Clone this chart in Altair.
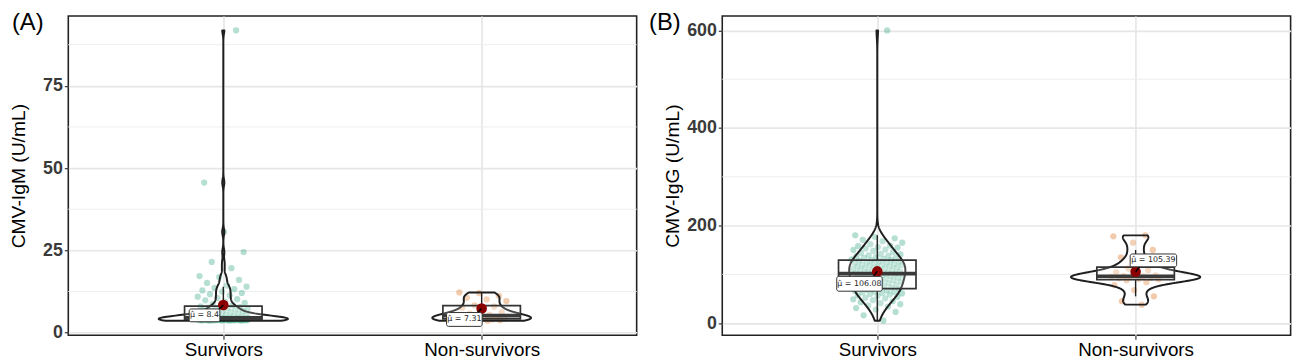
import altair as alt
import numpy as np
import pandas as pd

groups = ["Survivors", "Non-survivors"]
panel_tags = ["(A)", "(B)"]
y_titles = ["CMV-IgM (U/mL)", "CMV-IgG (U/mL)"]

igm_survivors = [
    3.62, 3.63, 3.65, 3.67, 3.68, 3.70, 3.71, 3.72, 3.74, 3.75, 3.77, 3.78, 3.79, 3.81, 3.82, 3.83,
    3.85, 3.86, 3.88, 3.89, 3.91, 3.92, 3.94, 3.95, 3.97, 3.99,
    4.01, 4.02, 4.04, 4.05, 4.07, 4.08, 4.10, 4.11, 4.13, 4.14, 4.16, 4.17, 4.19, 4.20, 4.22, 4.23,
    4.25, 4.26, 4.28, 4.30, 4.31, 4.33, 4.35, 4.36, 4.38, 4.40, 4.42, 4.44, 4.46, 4.48,
    4.58, 4.69, 4.81, 4.93, 5.06, 5.18, 5.31, 5.44,
    5.61, 5.77, 5.92, 6.05, 6.21, 6.38, 6.52, 6.67, 6.81, 6.96, 7.12, 7.27, 7.43, 7.58, 7.72, 7.86, 7.97,
    8.31, 8.68, 9.05, 9.42, 9.81, 10.17, 10.55, 10.93, 11.31, 11.69, 12.07, 12.46, 12.84, 13.22, 13.6,
    13.98, 14.3,
    15.1, 16.0, 16.9, 17.2, 19.6, 21.5, 24.5, 30.6, 45.6, 91.8,
]
igm_nonsurvivors = [
    3.62, 3.70, 3.78, 3.86, 3.95, 4.05, 4.15, 4.22, 4.35, 4.5, 4.7, 4.85, 5.0, 5.4, 5.8, 6.2,
    7.0, 7.6, 7.9, 8.3, 9.6, 10.1, 10.6, 11.2, 12.0, 12.2,
]
igg_survivors = [
    5, 16, 23, 28, 31, 34, 36, 39, 41, 43, 45, 47, 49, 51, 52, 54, 56, 57, 59,
    60, 61, 62, 63, 64, 65, 66, 67, 69, 70, 71, 72, 73, 74, 75, 77, 78, 79,
    80, 81, 82, 84, 85, 86, 87, 88, 89, 90, 91, 92, 93, 94, 95, 96, 97, 98, 99,
    100, 101, 102, 103, 104, 105, 106, 107, 108, 109, 110, 111, 112, 113, 114, 115, 116, 117,
    118, 119, 119.5, 120, 121, 122, 123, 124, 125, 126, 127, 128, 129, 130, 131, 132, 134, 135,
    136, 137, 138, 139, 141, 142, 144, 146, 148, 150, 151, 153, 155, 156, 158, 159,
    162, 165, 168, 171, 174, 177, 180, 600,
]
igg_nonsurvivors = [
    38, 45, 55, 68, 78, 84, 88, 90, 91, 92, 93, 94, 95, 96, 97, 98, 100, 104, 108,
    112, 118, 125, 135, 150, 165, 178, 180,
]

igm_mean = [8.4, 7.31]
igg_mean = [106.08, 105.39]
igm_mean_text = ["μ̂ = 8.4", "μ̂ = 7.31"]
igg_mean_text = ["μ̂ = 106.08", "μ̂ = 105.39"]

igm_ticks = [0, 25, 50, 75]
igm_minor = [12.5, 37.5, 62.5, 87.5]
igg_ticks = [0, 200, 400, 600]
igg_minor = [100, 300, 500]

GREEN = "#1B9E77"
ORANGE = "#D95F02"
FONT = "Liberation Sans"
LINE = "#1f1f1f"


def nrd0(v):
    v = np.asarray(v, float)
    sd = np.std(v, ddof=1)
    iqr = np.percentile(v, 75) - np.percentile(v, 25)
    return 0.9 * min(sd, iqr / 1.34) * len(v) ** -0.2


def kde_max(v, bw):
    v = np.asarray(v, float)
    grid = np.linspace(v.min(), v.max(), 512)
    z = (grid[:, None] - v[None, :]) / bw
    dens = np.exp(-0.5 * z ** 2).sum(axis=1) / (len(v) * bw * np.sqrt(2 * np.pi))
    return dens.max()


def panel(series, means, mean_text, ticks, minor, tag, ytitle, label_style, title_pad, tag_x):
    rows_g, rows_v = [], []
    for gi, vals in enumerate(series, start=1):
        rows_g += [gi] * len(vals)
        rows_v += list(vals)
    d = pd.DataFrame({"g": rows_g, "v": rows_v})
    lo, hi = min(rows_v), max(rows_v)
    span = hi - lo
    ysc = alt.Scale(domain=[lo - 0.05 * span, hi + 0.05 * span], nice=False, zero=False)
    xsc = alt.Scale(domain=[0.4, 2.6], nice=False, zero=False)
    xax = alt.Axis(values=[1, 2], labelExpr=f"datum.value == 1 ? '{groups[0]}' : '{groups[1]}'",
                   title=None, labelFontSize=19, labelColor="black", labelFont=FONT,
                   tickSize=4, tickColor="#333", tickWidth=1.2, labelPadding=1, domain=False,
                   grid=True, gridColor="#e6e6e6", gridWidth=1.7)
    yax = alt.Axis(values=ticks, title=ytitle, labelFontSize=18, labelFontWeight="bold",
                   labelColor="#3a3a3a", labelFont=FONT, tickSize=4, tickColor="#333",
                   tickWidth=1.2, labelPadding=2, domain=False, grid=True, gridColor="#e6e6e6",
                   gridWidth=1.7, titleFontSize=19.5, titleFontWeight="normal", titleColor="black",
                   titleFont=FONT, titlePadding=title_pad)

    def X(f):
        return alt.X(f, type="quantitative", scale=xsc, axis=xax, title=None)

    def Y(f):
        return alt.Y(f, type="quantitative", scale=ysc, axis=yax, title=ytitle)

    layers = []
    layers.append(alt.Chart(pd.DataFrame({"v": minor})).mark_rule(color="#eeeeee", strokeWidth=1)
                  .encode(y=Y("v")))

    layers.append(
        alt.Chart(d)
        .transform_window(i="row_number()", groupby=["g"])
        .transform_calculate(jx="datum.g + ((datum.i * 0.6180339887) % 1 - 0.5) * 0.2")
        .mark_circle(size=40, opacity=0.33)
        .encode(x=X("jx"), y=Y("v"),
                color=alt.Color("g:N", scale=alt.Scale(domain=[1, 2], range=[GREEN, ORANGE]), legend=None))
    )

    bws = [nrd0(v) for v in series]
    K = 0.25 / max(kde_max(v, b) for v, b in zip(series, bws))
    for gi, (vals, bw) in enumerate(zip(series, bws), start=1):
        layers.append(
            alt.Chart(d)
            .transform_filter(f"datum.g == {gi}")
            .transform_density("v", as_=["v", "dens"], bandwidth=float(bw),
                               extent=[float(min(vals)), float(max(vals))], steps=512)
            .transform_calculate(xl=f"{gi} - datum.dens * {K}", xr=f"{gi} + datum.dens * {K}")
            .mark_area(orient="horizontal", fill="white", fillOpacity=0.15, stroke=LINE,
                       strokeWidth=2, strokeJoin="round")
            .encode(y=Y("v"), x=X("xl"), x2=alt.X2("xr"))
        )

    box = (
        alt.Chart(d)
        .transform_joinaggregate(q1="q1(v)", q3="q3(v)", med="median(v)", groupby=["g"])
        .transform_filter("datum.v >= datum.q1 - 1.5 * (datum.q3 - datum.q1) && "
                          "datum.v <= datum.q3 + 1.5 * (datum.q3 - datum.q1)")
        .transform_aggregate(wlo="min(v)", whi="max(v)", groupby=["g", "q1", "q3", "med"])
        .transform_calculate(bl="datum.g - 0.15", br="datum.g + 0.15")
    )
    layers.append(box.mark_rule(color=LINE, strokeWidth=1.4).encode(x=X("g"), y=Y("q3"), y2=alt.Y2("whi")))
    layers.append(box.mark_rule(color=LINE, strokeWidth=1.4).encode(x=X("g"), y=Y("wlo"), y2=alt.Y2("q1")))
    layers.append(box.mark_rect(fill="white", fillOpacity=0.2, stroke="#333", strokeWidth=1.7)
                  .encode(x=X("bl"), x2=alt.X2("br"), y=Y("q1"), y2=alt.Y2("q3")))
    layers.append(box.mark_rule(color="#3a3a3a", strokeWidth=3.8)
                  .encode(x=X("bl"), x2=alt.X2("br"), y=Y("med")))

    m = pd.DataFrame({"g": [1, 2], "v": means, "t": mean_text})
    layers.append(alt.Chart(m).mark_circle(size=115, color="#8B0000", opacity=1).encode(x=X("g"), y=Y("v")))
    for gi, (dx, dy, w, h, cx, cy) in enumerate(label_style, start=1):
        mg = alt.Chart(m).transform_filter(f"datum.g == {gi}")
        layers.append(mg.mark_rule(color="black", strokeWidth=1.4, x2Offset=cx, y2Offset=cy)
                      .encode(x=X("g"), x2=alt.X2("g"), y=Y("v"), y2=alt.Y2("v")))
        layers.append(mg.mark_rect(fill="white", stroke="#333", strokeWidth=1, cornerRadius=2,
                                   xOffset=dx - w / 2, x2Offset=dx + w / 2,
                                   yOffset=dy - h / 2, y2Offset=dy + h / 2)
                      .encode(x=X("g"), x2=alt.X2("g"), y=Y("v"), y2=alt.Y2("v")))
        layers.append(mg.mark_text(xOffset=dx, yOffset=dy, fontSize=8, font="DejaVu Sans", color="#222")
                      .encode(x=X("g"), y=Y("v"), text="t:N"))

    layers.append(alt.Chart(pd.DataFrame({"t": [tag]}))
                  .mark_text(align="left", baseline="top", fontSize=24, font=FONT, color="black")
                  .encode(x=alt.value(tag_x), y=alt.value(-5), text="t:N"))
    return alt.layer(*layers).properties(width=575, height=323)


pA = panel([igm_survivors, igm_nonsurvivors], igm_mean, igm_mean_text, igm_ticks, igm_minor,
           panel_tags[0], y_titles[0],
           [(-19, 10.5, 31, 13, -6, 6), (-17.5, 11, 36, 14, -5, 5)], 14, -57)
pB = panel([igg_survivors, igg_nonsurvivors], igg_mean, igg_mean_text, igg_ticks, igg_minor,
           panel_tags[1], y_titles[1],
           [(-18, 12.5, 46, 15, -4, 5), (18, -11.5, 47, 13, 4, -5)], 4, -74)

chart = (
    alt.hconcat(pA, pB, spacing=9.6)
    .properties(padding={"left": 0, "top": 0, "right": 0, "bottom": 0}, background="white")
    .configure_view(stroke="#222", strokeWidth=1.6)
)
chart.save("out.html", embed_options={"renderer": "svg", "actions": False})
